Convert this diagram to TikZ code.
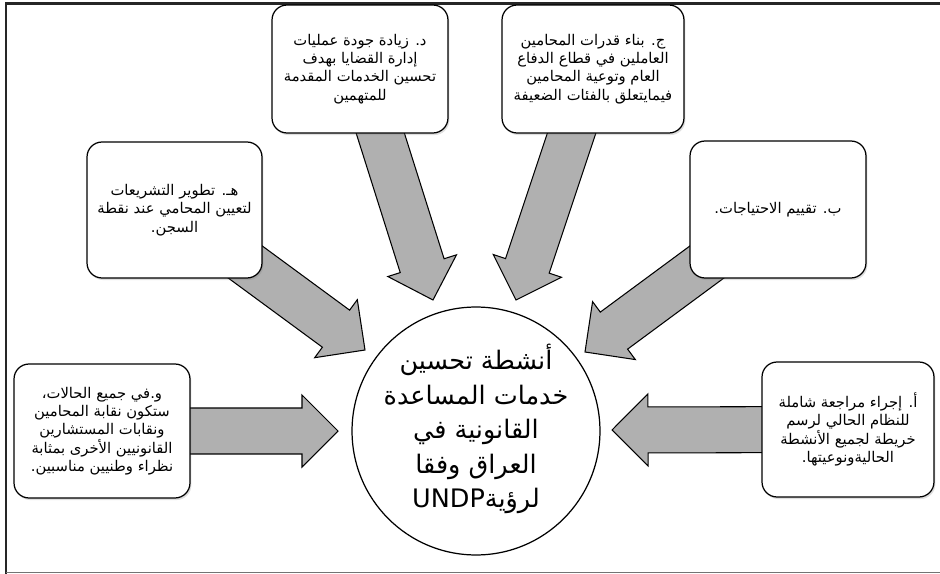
\documentclass[tikz,border=0pt]{standalone}
\usepackage{fontspec}
\newfontfamily\arabicfont[Script=Arabic]{DejaVu Sans}
\TeXXeTstate=1
\usetikzlibrary{calc,backgrounds,shadows}

\tikzset{
  itembox/.style={draw, line width=0.7pt, rounded corners=0.3cm, fill=white,
    align=center, minimum width=3.52cm, minimum height=2.62cm, inner sep=2pt,
    font=\arabicfont\fontsize{8.4}{10.4}\selectfont,
    drop shadow={opacity=0.25, shadow xshift=0.8pt, shadow yshift=-1.2pt}},
  goalcircle/.style={circle, draw, line width=0.7pt, fill=white, minimum size=4.96cm,
    inner sep=0pt},
  goaltext/.style={align=center, inner sep=0pt,
    font=\arabicfont\fontsize{14.5}{19.6}\selectfont},
  bigarrow/.style={draw=black, fill=black!31, line width=0.6pt, line join=miter},
}

% block arrow from #1 to the tip #2
\newcommand{\blockarrow}[2]{%
  \coordinate (hb) at ($(#2)!0.72cm!(#1)$);
  \draw[bigarrow] ($(#1)!0.46cm!90:(#2)$) -- ($(hb)!0.46cm!-90:(#1)$)
    -- ($(hb)!0.72cm!-90:(#1)$) -- (#2) -- ($(hb)!0.72cm!90:(#1)$)
    -- ($(hb)!0.46cm!90:(#1)$) -- ($(#1)!0.46cm!-90:(#2)$) -- cycle;
}

\begin{document}
\begin{tikzpicture}[x=0.02cm, y=-0.02cm]
  \useasboundingbox (0,0) rectangle (940,574);

  % frame
  \draw[black!85, line width=1.4pt] (6,574) -- (6,3.5) -- (940,3.5);
  \draw[black!55, line width=0.8pt] (6,572.5) -- (940,572.5);

  % centre
  \node[goalcircle] (c) at (476,431) {};
  \node[goaltext] (ct) at (476,429)
    {\beginR أنشطة تحسين\endR\\
     \beginR خدمات المساعدة\endR\\
     \beginR القانونية في\endR\\
     \beginR العراق وفقا\endR\\
     \beginR لرؤية\beginL UNDP\endL\endR};

  % activities
  \node[itembox, minimum width=3.52cm, minimum height=2.56cm] (d) at (360,69)
    {\beginR د. زيادة جودة عمليات\endR\\
     \beginR إدارة القضايا بهدف\endR\\
     \beginR تحسين الخدمات المقدمة\endR\\
     \beginR للمتهمين\endR};
  \node[itembox, minimum width=3.64cm, minimum height=2.56cm] (j) at (593,69)
    {\beginR ج. بناء قدرات المحامين\endR\\
     \beginR العاملين في قطاع الدفاع\endR\\
     \beginR العام وتوعية المحامين\endR\\
     \beginR فيمايتعلق بالفئات الضعيفة\endR};
  \node[itembox, minimum width=3.5cm, minimum height=2.72cm] (h) at (174.5,210)
    {\beginR هـ. تطوير التشريعات\endR\\
     \beginR لتعيين المحامي عند نقطة\endR\\
     \beginR السجن.\endR};
  \node[itembox, minimum width=3.52cm, minimum height=2.74cm] (b) at (778,209.5)
    {\beginR ب.  تقييم الاحتياجات.\endR};
  \node[itembox, minimum width=3.52cm, minimum height=2.68cm] (w) at (102,431)
    {\beginR و.في جميع الحالات،\endR\\
     \beginR ستكون نقابة المحامين\endR\\
     \beginR ونقابات المستشارين\endR\\
     \beginR القانونيين الأخرى بمثابة\endR\\
     \beginR نظراء وطنيين مناسبين.\endR};
  \node[itembox, minimum width=3.44cm, minimum height=2.7cm] (a) at (848,429.5)
    {\beginR أ. إجراء مراجعة شاملة\endR\\
     \beginR للنظام الحالي لرسم\endR\\
     \beginR خريطة لجميع الأنشطة\endR\\
     \beginR الحاليةونوعيتها.\endR};

  % arrow tips
  \coordinate (dtip) at (433,300);
  \coordinate (jtip) at (516,300);
  \coordinate (htip) at (365,350);
  \coordinate (btip) at (585,352);
  \coordinate (wtip) at (338,431);
  \coordinate (atip) at (612,430);

  % arrows behind the boxes
  \begin{pgfonlayer}{background}
    \blockarrow{d.center}{dtip}
    \blockarrow{j.center}{jtip}
    \blockarrow{h.center}{htip}
    \blockarrow{b.center}{btip}
    \blockarrow{w.center}{wtip}
    \blockarrow{a.center}{atip}
  \end{pgfonlayer}
\end{tikzpicture}
\end{document}
